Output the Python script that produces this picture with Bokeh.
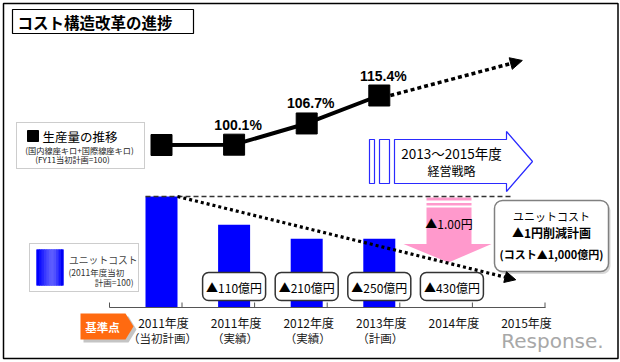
from bokeh.plotting import figure
from bokeh.models import Range1d, Arrow, NormalHead
from bokeh.core.properties import value
from bokeh.embed import file_html
from bokeh.resources import INLINE

# ---------------- data ----------------
cat_year = ["2011年度", "2011年度", "2012年度", "2013年度", "2014年度", "2015年度"]
cat_note = ["（当初計画）", "（実績）", "（実績）", "（計画）", "", ""]
cat_x = [0, 1, 2, 3, 4, 5]

prod_x = [0, 1, 2, 3]
production = [100.0, 100.1, 106.7, 115.4]
prod_labels = ["", "100.1%", "106.7%", "115.4%"]
prod_trend_end = [4.97, 126.3]

cost_x = [0, 1, 2, 3]
unit_cost = [100.0, 74.5, 62.0, 62.0]
cost_trend_end = [4.88, 25.0]

saving_x = [1, 2, 3, 4]
savings = ["▲110億円", "▲210億円", "▲250億円", "▲430億円"]

# ---------------- figure ----------------
W, H = 620, 362
CAT0, CATW = 161.0, 72.6          # screen x of category 0, px per category
BASE, CPX = 307.0, 1.11           # screen y of cost 0, px per cost unit
PBASE, PPX = 144.5, 3.214         # screen y of production 100, px per unit

p = figure(width=W, height=H, output_backend="svg", toolbar_location=None,
           x_range=Range1d((0 - CAT0) / CATW, (W - CAT0) / CATW),
           y_range=Range1d(-(H - BASE) / CPX, BASE / CPX),
           x_axis_location=None, y_axis_location=None, min_border=0)
p.outline_line_color = None
p.grid.visible = False
p.background_fill_color = "white"
p.border_fill_color = "white"
p.extra_y_ranges = {
    "prod": Range1d(100 - (H - PBASE) / PPX, 100 + PBASE / PPX),
    "py": Range1d(0, H),
}
p.extra_x_ranges = {"px": Range1d(0, W)}


def Y(s):
    return H - s


JP = value("Noto Sans CJK JP")
LS = value("Liberation Sans")
deco = dict(x_range_name="px", y_range_name="py")

# outer border
p.quad(left=3, right=617.5, bottom=Y(358), top=Y(3), fill_color=None,
       line_color="black", line_width=1.5, **deco)

# title
p.quad(left=12, right=193, bottom=Y(33), top=Y(9), fill_color="white",
       line_color="black", line_width=1.2, **deco)
p.text(x=[17], y=[Y(21.5)], text=["コスト構造改革の進捗"], text_font=JP,
       text_font_size="15.5px", text_font_style="bold", text_baseline="middle",
       text_color="black", **deco)

# legend 1 (production)
p.quad(left=16, right=144, bottom=Y(168), top=Y(122), fill_color="white",
       line_color="#9a9a9a", line_width=1, line_dash="1 1", **deco)
p.quad(left=27, right=38, bottom=Y(141), top=Y(130), fill_color="black",
       line_color="black", **deco)
p.text(x=[42], y=[Y(136)], text=["生産量の推移"], text_font=JP,
       text_font_size="12.5px", text_baseline="middle", text_color="black", **deco)
p.text(x=[79], y=[Y(149)], text=["(国内線座キロ+国際線座キロ)"], text_font=JP,
       text_font_size="8.2px", text_baseline="middle", text_align="center",
       text_color="#222", **deco)
p.text(x=[72], y=[Y(158.5)], text=["(FY11当初計画=100)"], text_font=JP,
       text_font_size="8.2px", text_baseline="middle", text_align="center",
       text_color="#222", **deco)

# legend 2 (unit cost)
p.quad(left=29, right=138, bottom=Y(291), top=Y(243), fill_color="white",
       line_color="#9a9a9a", line_width=1, line_dash="1 1", **deco)
p.quad(left=36, right=63, bottom=Y(285), top=Y(249), fill_color="#2020ff",
       line_color=None, **deco)
grad = ["#0000ff", "#1010ff", "#2424ff", "#3838ff", "#4a4aff", "#5858ff",
        "#5c5cff", "#5050ff", "#3838ff", "#1818ff", "#0000f5"]
sw = 27.0 / len(grad)
p.quad(left=[36 + i * sw for i in range(len(grad))],
       right=[min(63, 36 + (i + 1) * sw + 1.0) for i in range(len(grad))],
       bottom=Y(285), top=Y(249), fill_color=grad, line_color=None, **deco)
p.text(x=[68.5], y=[Y(259)], text=["ユニットコスト"], text_font=JP,
       text_font_size="9.8px", text_baseline="middle", text_color="#444", **deco)
p.text(x=[68], y=[Y(271)], text=["(2011年度当初"], text_font=JP,
       text_font_size="8.5px", text_baseline="middle", text_color="#333", **deco)
p.text(x=[133], y=[Y(281)], text=["計画=100)"], text_font=JP,
       text_font_size="8.5px", text_baseline="middle", text_align="right",
       text_color="#333", **deco)

# blue strategy arrow
p.quad(left=[369, 379], right=[374, 389], bottom=Y(183), top=Y(139),
       fill_color="white", line_color="#2a2aff", line_width=1.2, **deco)
p.patch(x=[394, 506, 506, 532, 506, 506, 394],
        y=[Y(139), Y(139), Y(131), Y(161), Y(191), Y(183), Y(183)],
        fill_color="white", line_color="#2a2aff", line_width=1.2, **deco)
p.text(x=[451], y=[Y(152)], text=["2013～2015年度"], text_font=JP,
       text_font_size="13.5px", text_baseline="middle", text_align="center",
       text_color="black", **deco)
p.text(x=[451], y=[Y(170)], text=["経営戦略"], text_font=JP,
       text_font_size="12px", text_baseline="middle", text_align="center",
       text_color="black", **deco)

# pink arrow
PINK = "#ff99cc"
p.quad(left=426, right=471, bottom=[Y(200), Y(205)], top=[Y(197), Y(202.5)],
       fill_color=PINK, line_color=None, **deco)
p.quad(left=426, right=471, bottom=Y(244), top=Y(207), fill_color=PINK,
       line_color=None, **deco)
p.patch(x=[403, 491, 448], y=[Y(243.5), Y(243.5), Y(262)], fill_color=PINK,
        line_color=None, **deco)
p.text(x=[448.5], y=[Y(223)], text=["▲1.00円"], text_font=JP,
       text_font_size="12px", text_baseline="middle", text_align="center",
       text_color="black", **deco)

# bars (unit cost)
p.vbar(x=cost_x, top=unit_cost, bottom=0, width=32 / CATW,
       fill_color="#0000ff", line_color=None)

# dashed reference at plan level
p.line(x=[cost_x[0] - 16 / CATW, cost_trend_end[0] - 0.07],
       y=[unit_cost[0], unit_cost[0]], line_color="#333", line_width=1.4,
       line_dash="5 3")

# cost trend dotted arrow
p.add_layout(Arrow(x_start=cost_x[0] + 16 / CATW, y_start=unit_cost[0],
                   x_end=cost_trend_end[0], y_end=cost_trend_end[1],
                   line_color="black", line_width=3.2, line_dash="3 3",
                   end=NormalHead(size=11, fill_color="black", line_color="black")))

# right info box
p.quad(left=496, right=610, bottom=Y(273.5), top=Y(202), fill_color="#d8d8d8",
       line_color=None, border_radius=8, **deco)
p.quad(left=494, right=608, bottom=Y(271), top=Y(200), fill_color="white",
       line_color="#808080", line_width=1.5, border_radius=8, **deco)
p.text(x=[551], y=[Y(215.5)], text=["ユニットコスト"], text_font=JP,
       text_font_size="11px", text_baseline="middle", text_align="center",
       text_color="black", **deco)
p.text(x=[551], y=[Y(231.5)], text=["▲1円削減計画"], text_font=JP,
       text_font_size="12px", text_font_style="bold", text_baseline="middle",
       text_align="center", text_color="black", **deco)
p.text(x=[551], y=[Y(253)], text=["(コスト▲1,000億円)"], text_font=JP,
       text_font_size="11px", text_font_style="bold", text_baseline="middle",
       text_align="center", text_color="black", **deco)

# savings boxes
p.rect(x=saving_x, y=[Y(286)] * len(saving_x), width=63, height=28,
       width_units="screen", height_units="screen", fill_color="white",
       line_color="#333", line_width=1.5, border_radius=6, y_range_name="py")
p.text(x=saving_x, y=[Y(286.5)] * len(saving_x), text=savings, text_font=JP,
       text_font_size="12px", text_baseline="middle", text_align="center",
       text_color="black", y_range_name="py")

# category axis
ax_left, ax_right = -52 / CATW, cat_x[-1] + 21 / CATW
p.line(x=[ax_left, ax_right], y=[0, 0], line_color="#555", line_width=1)
tick_x = [ax_left] + [c + 20.5 / CATW for c in cat_x]
p.segment(x0=tick_x, x1=tick_x, y0=0, y1=5 / CPX, line_color="#555", line_width=1)
p.text(x=cat_x, y=[Y(322)] * len(cat_x), text=cat_year, text_font=JP,
       text_font_size="12px", text_baseline="middle", text_align="center",
       text_color="#111", x_offset=2, y_range_name="py")
p.text(x=cat_x, y=[Y(337.5)] * len(cat_x), text=cat_note, text_font=JP,
       text_font_size="11.5px", text_baseline="middle", text_align="center",
       text_color="#222", x_offset=1, y_range_name="py")

# 基準点 tag
p.patch(x=[83, 128, 136, 128, 83], y=[Y(316), Y(316), Y(329), Y(342), Y(342)],
        fill_color="#c4c4c4", line_color=None, **deco)
p.patch(x=[80, 125, 133, 125, 80], y=[Y(313), Y(313), Y(326), Y(339), Y(339)],
        fill_color="#ff6a10", line_color=None, **deco)
p.text(x=[102], y=[Y(326.5)], text=["基準点"], text_font=JP,
       text_font_size="11.5px", text_font_style="bold", text_baseline="middle",
       text_align="center", text_color="white", **deco)

# production line
p.line(x=prod_x, y=production, y_range_name="prod", line_color="black",
       line_width=4)
p.add_layout(Arrow(x_start=prod_x[-1] + 11 / CATW, y_start=production[-1],
                   x_end=prod_trend_end[0], y_end=prod_trend_end[1],
                   line_color="black", line_width=3.5, line_dash="4 3",
                   y_range_name="prod",
                   end=NormalHead(size=12, fill_color="black", line_color="black")))
p.scatter(x=prod_x, y=production, y_range_name="prod", marker="square",
          size=21, fill_color="black", line_color="black")
p.text(x=prod_x[1:], y=production[1:], text=prod_labels[1:], y_range_name="prod",
       text_font=LS, text_font_size="14px", text_font_style="bold",
       text_baseline="middle", text_align="center", text_color="black",
       x_offset=4, y_offset=-20)

# watermark
p.text(x=[552], y=[Y(340)], text=["Response."], text_font=value("DejaVu Sans"),
       text_font_size="20px", text_baseline="middle", text_align="center",
       text_color="#a8a8a8", **deco)

open("out.html", "w").write(file_html(p, INLINE))
